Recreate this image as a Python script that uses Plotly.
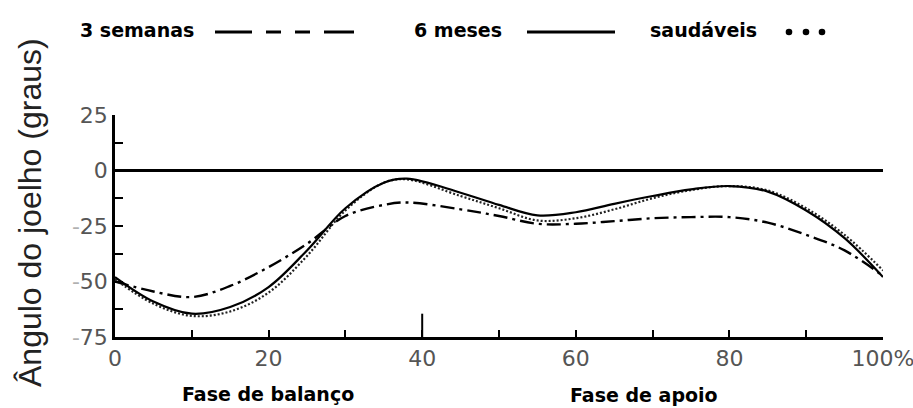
import plotly.graph_objects as go

# ---- data ----
ciclo_pct = [0, 5, 10, 15, 20, 25, 30, 35, 38, 45, 50, 55, 60, 65, 70, 75, 80, 85, 90, 95, 100]
tres_semanas = [-50, -54.5, -57, -52, -43.5, -33, -20.5, -15.5, -14.4, -17.5, -20.5, -24, -24, -22.8, -21.5, -21, -21, -23.5, -29, -36, -47.5]
seis_meses = [-48, -59, -64.5, -61.5, -52.5, -36, -17, -5.5, -3.7, -10, -15.5, -20.2, -18.8, -15, -11.5, -8.5, -7, -9.5, -18, -30.5, -48]
saudaveis = [-49, -60, -65.5, -63.5, -55, -38.5, -18, -5.5, -4, -11.5, -17, -22.5, -21.5, -17.5, -12.5, -8.8, -7, -9, -17, -29, -45]

x_tickvals = [0, 10, 20, 30, 40, 50, 60, 70, 80, 90, 100]
x_ticktext = ["0", "", "20", "", "40", "", "60", "", "80", "", "100%"]
y_tickvals = [-75, -62.5, -50, -37.5, -25, -12.5, 0, 12.5, 25]
minus = "<span style='color:#b0b0b0'>-</span>"
y_ticktext = [minus + "75", "", minus + "50", "", minus + "25", "", "0", "", "25"]

legend_labels = ["3 semanas", "6 meses", "saudáveis"]
phase_labels = ["Fase de balanço", "Fase de apoio"]
y_title = "Ângulo do joelho (graus)"

# ---- geometry helpers (pixel -> paper) ----
W, H = 913, 408
L, R, T, B = 115, 30, 115, 71
PW, PH = W - L - R, H - T - B


def px(xp):
    return (xp - L) / PW


def py(yp):
    return (H - B - yp) / PH


fig = go.Figure()
fig.add_trace(go.Scatter(x=ciclo_pct, y=tres_semanas, mode="lines", name=legend_labels[0],
                         line=dict(color="black", width=2.4, dash="14px,5px,3px,5px", shape="spline", smoothing=1.0),
                         cliponaxis=False))
fig.add_trace(go.Scatter(x=ciclo_pct, y=saudaveis, mode="lines", name=legend_labels[2],
                         line=dict(color="#222", width=2.2, dash="2px,2px", shape="spline", smoothing=1.0),
                         cliponaxis=False))
fig.add_trace(go.Scatter(x=ciclo_pct, y=seis_meses, mode="lines", name=legend_labels[1],
                         line=dict(color="black", width=2.2, shape="spline", smoothing=1.0),
                         cliponaxis=False))

tickfont = dict(family="DejaVu Sans", size=22, color="#555")
fig.update_xaxes(range=[0, 100], showline=True, linecolor="black", linewidth=2.5,
                 ticks="inside", ticklen=7, tickwidth=2, tickcolor="black",
                 tickmode="array", tickvals=x_tickvals, ticktext=x_ticktext,
                 tickfont=tickfont, showgrid=False, zeroline=False,
                 ticklabeloverflow="allow")
fig.update_yaxes(range=[-75, 25], showline=True, linecolor="black", linewidth=2.5,
                 ticks="inside", ticklen=8, tickwidth=2, tickcolor="black",
                 tickmode="array", tickvals=y_tickvals, ticktext=y_ticktext,
                 tickfont=tickfont, showgrid=False, zeroline=True, zerolinecolor="black",
                 zerolinewidth=2.5, ticklabeloverflow="allow")

shapes = []
# taller tick marking the phase boundary at 40 %
shapes.append(dict(type="line", xref="x", yref="y", x0=40, x1=40, y0=-75, y1=-64.5,
                   line=dict(color="black", width=2)))
# legend samples
leg_y = py(32)
for a, b in [(215, 252), (266, 281), (295, 310), (324, 354)]:
    shapes.append(dict(type="line", xref="paper", yref="paper", x0=px(a), x1=px(b), y0=leg_y, y1=leg_y,
                       line=dict(color="black", width=3)))
shapes.append(dict(type="line", xref="paper", yref="paper", x0=px(527), x1=px(615), y0=leg_y, y1=leg_y,
                   line=dict(color="black", width=3)))
for cx in [789, 806, 822]:
    r = 3.3
    shapes.append(dict(type="circle", xref="paper", yref="paper", x0=px(cx - r), x1=px(cx + r),
                       y0=py(32 + r), y1=py(32 - r), fillcolor="black", line=dict(width=0)))

annotations = []
leg_font = dict(family="DejaVu Sans", size=19, color="black", weight="bold")
for text, xp in zip(legend_labels, [78, 412, 648]):
    annotations.append(dict(text=text, xref="paper", yref="paper", x=px(xp), y=py(30),
                            xanchor="left", yanchor="middle", showarrow=False, font=leg_font))
phase_font = dict(family="DejaVu Sans", size=19, color="black", weight="bold")
for text, xp, yp in zip(phase_labels, [268, 644], [394, 395]):
    annotations.append(dict(text=text, xref="paper", yref="paper", x=px(xp), y=py(yp),
                            xanchor="center", yanchor="middle", showarrow=False, font=phase_font))
annotations.append(dict(text=y_title, xref="paper", yref="paper", x=px(30), y=py(213),
                        xanchor="center", yanchor="middle", textangle=-90, showarrow=False,
                        font=dict(family="Liberation Sans", size=32, color="#222")))

fig.update_layout(width=W, height=H, margin=dict(l=L, r=R, t=T, b=B, autoexpand=False),
                  paper_bgcolor="white", plot_bgcolor="white", showlegend=False,
                  shapes=shapes, annotations=annotations)

fig.write_html("out.html")
